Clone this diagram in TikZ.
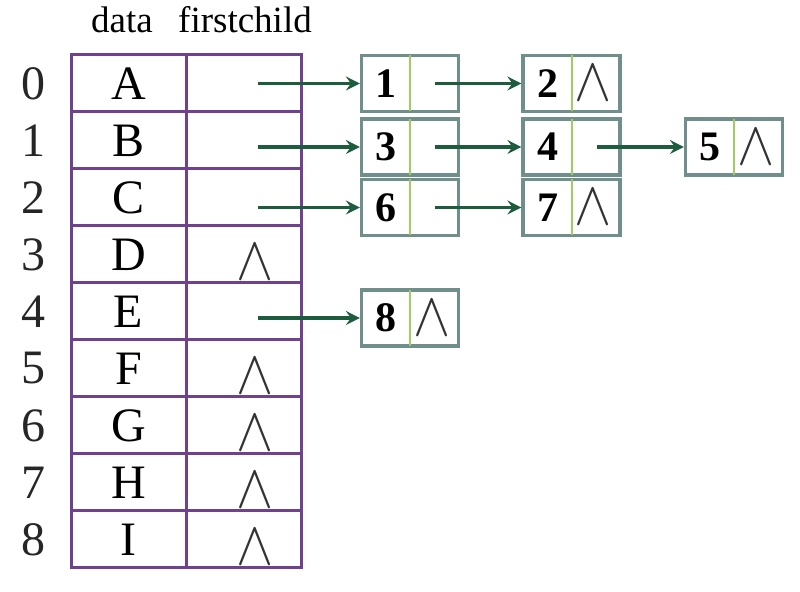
\documentclass[tikz,border=0pt]{standalone}
\usepackage{fontspec}
\setmainfont{Liberation Serif}
\usetikzlibrary{arrows.meta}

\definecolor{tabpurple}{RGB}{112,66,142}
\definecolor{boxgray}{RGB}{112,142,140}
\definecolor{divgreen}{RGB}{160,204,100}
\definecolor{linkgreen}{RGB}{30,92,62}

\tikzset{
  cell/.style={draw=tabpurple, line width=1.5pt, minimum width=57.5pt, minimum height=28.5pt,
    inner sep=0pt, font=\fontsize{24}{24}\selectfont},
  idx/.style={font=\fontsize{24}{24}\selectfont, text=black!85},
  head/.style={font=\fontsize{18.5}{19}\selectfont},
  listbox/.style={draw=boxgray, line width=1.6pt, fill=white, minimum width=48.5pt,
    minimum height=28pt, inner sep=0pt},
  num/.style={font=\fontsize{21}{21}\selectfont\bfseries},
  nul/.style={font=\fontsize{29}{29}\selectfont, inner sep=0pt, xscale=1.12, yscale=1.25, text=black!80},
  divider/.style={draw=divgreen, line width=1pt},
  link/.style={draw=linkgreen, line width=1.7pt, -{Stealth[length=7pt,width=7pt,inset=2.5pt]}}
}

\begin{document}
\begin{tikzpicture}[x=0.5pt, y=-0.5pt]
  \useasboundingbox (0,0) rectangle (800,592);

  % header
  \node[head] (hdata) at (122,20) {data};
  \node[head] (hchild) at (245,20) {firstchild};

  % table
  \foreach \l [count=\i from 0] in {A,B,C,D,E,F,G,H,I} {
    \node[cell] (d\i) at (128.5,83.5+57*\i) {\l};
    \node[cell] (f\i) at (244,83.5+57*\i) {};
    \node[idx] (i\i) at (33,83.5+57*\i) {\i};
  }
  \foreach \i in {3,5,6,7,8}
    \node[nul] (z\i) at ([xshift=5.5pt,yshift=-4pt]f\i.center) {$\wedge$};

  % child lists
  \foreach \n/\x/\y in {1/410/83.5, 2/571.5/83.5, 3/410/147, 4/571.5/147, 5/734/147,
                        6/410/207.5, 7/571.5/207.5, 8/410/318} {
    \node[listbox] (n\n) at (\x,\y) {};
    \node[num] (t\n) at ([xshift=-12pt]n\n.center) {\n};
    \draw[divider] ([yshift=-0.8pt]n\n.north) -- ([yshift=0.8pt]n\n.south);
  }
  \foreach \n in {2,5,7,8}
    \node[nul] (w\n) at ([xshift=11pt]n\n.center) {$\wedge$};

  % links
  \coordinate (tail) at (258,0);
  \draw[link] (n1.west -| tail) -- (n1.west);
  \draw[link] (n3.west -| tail) -- (n3.west);
  \draw[link] (n6.west -| tail) -- (n6.west);
  \draw[link] (n8.west -| tail) -- (n8.west);
  \draw[link] ([xshift=12.5pt]n1.center) -- (n2.west);
  \draw[link] ([xshift=12.5pt]n3.center) -- (n4.west);
  \draw[link] ([xshift=12.5pt]n4.center) -- (n5.west);
  \draw[link] ([xshift=12.5pt]n6.center) -- (n7.west);

\end{tikzpicture}
\end{document}
